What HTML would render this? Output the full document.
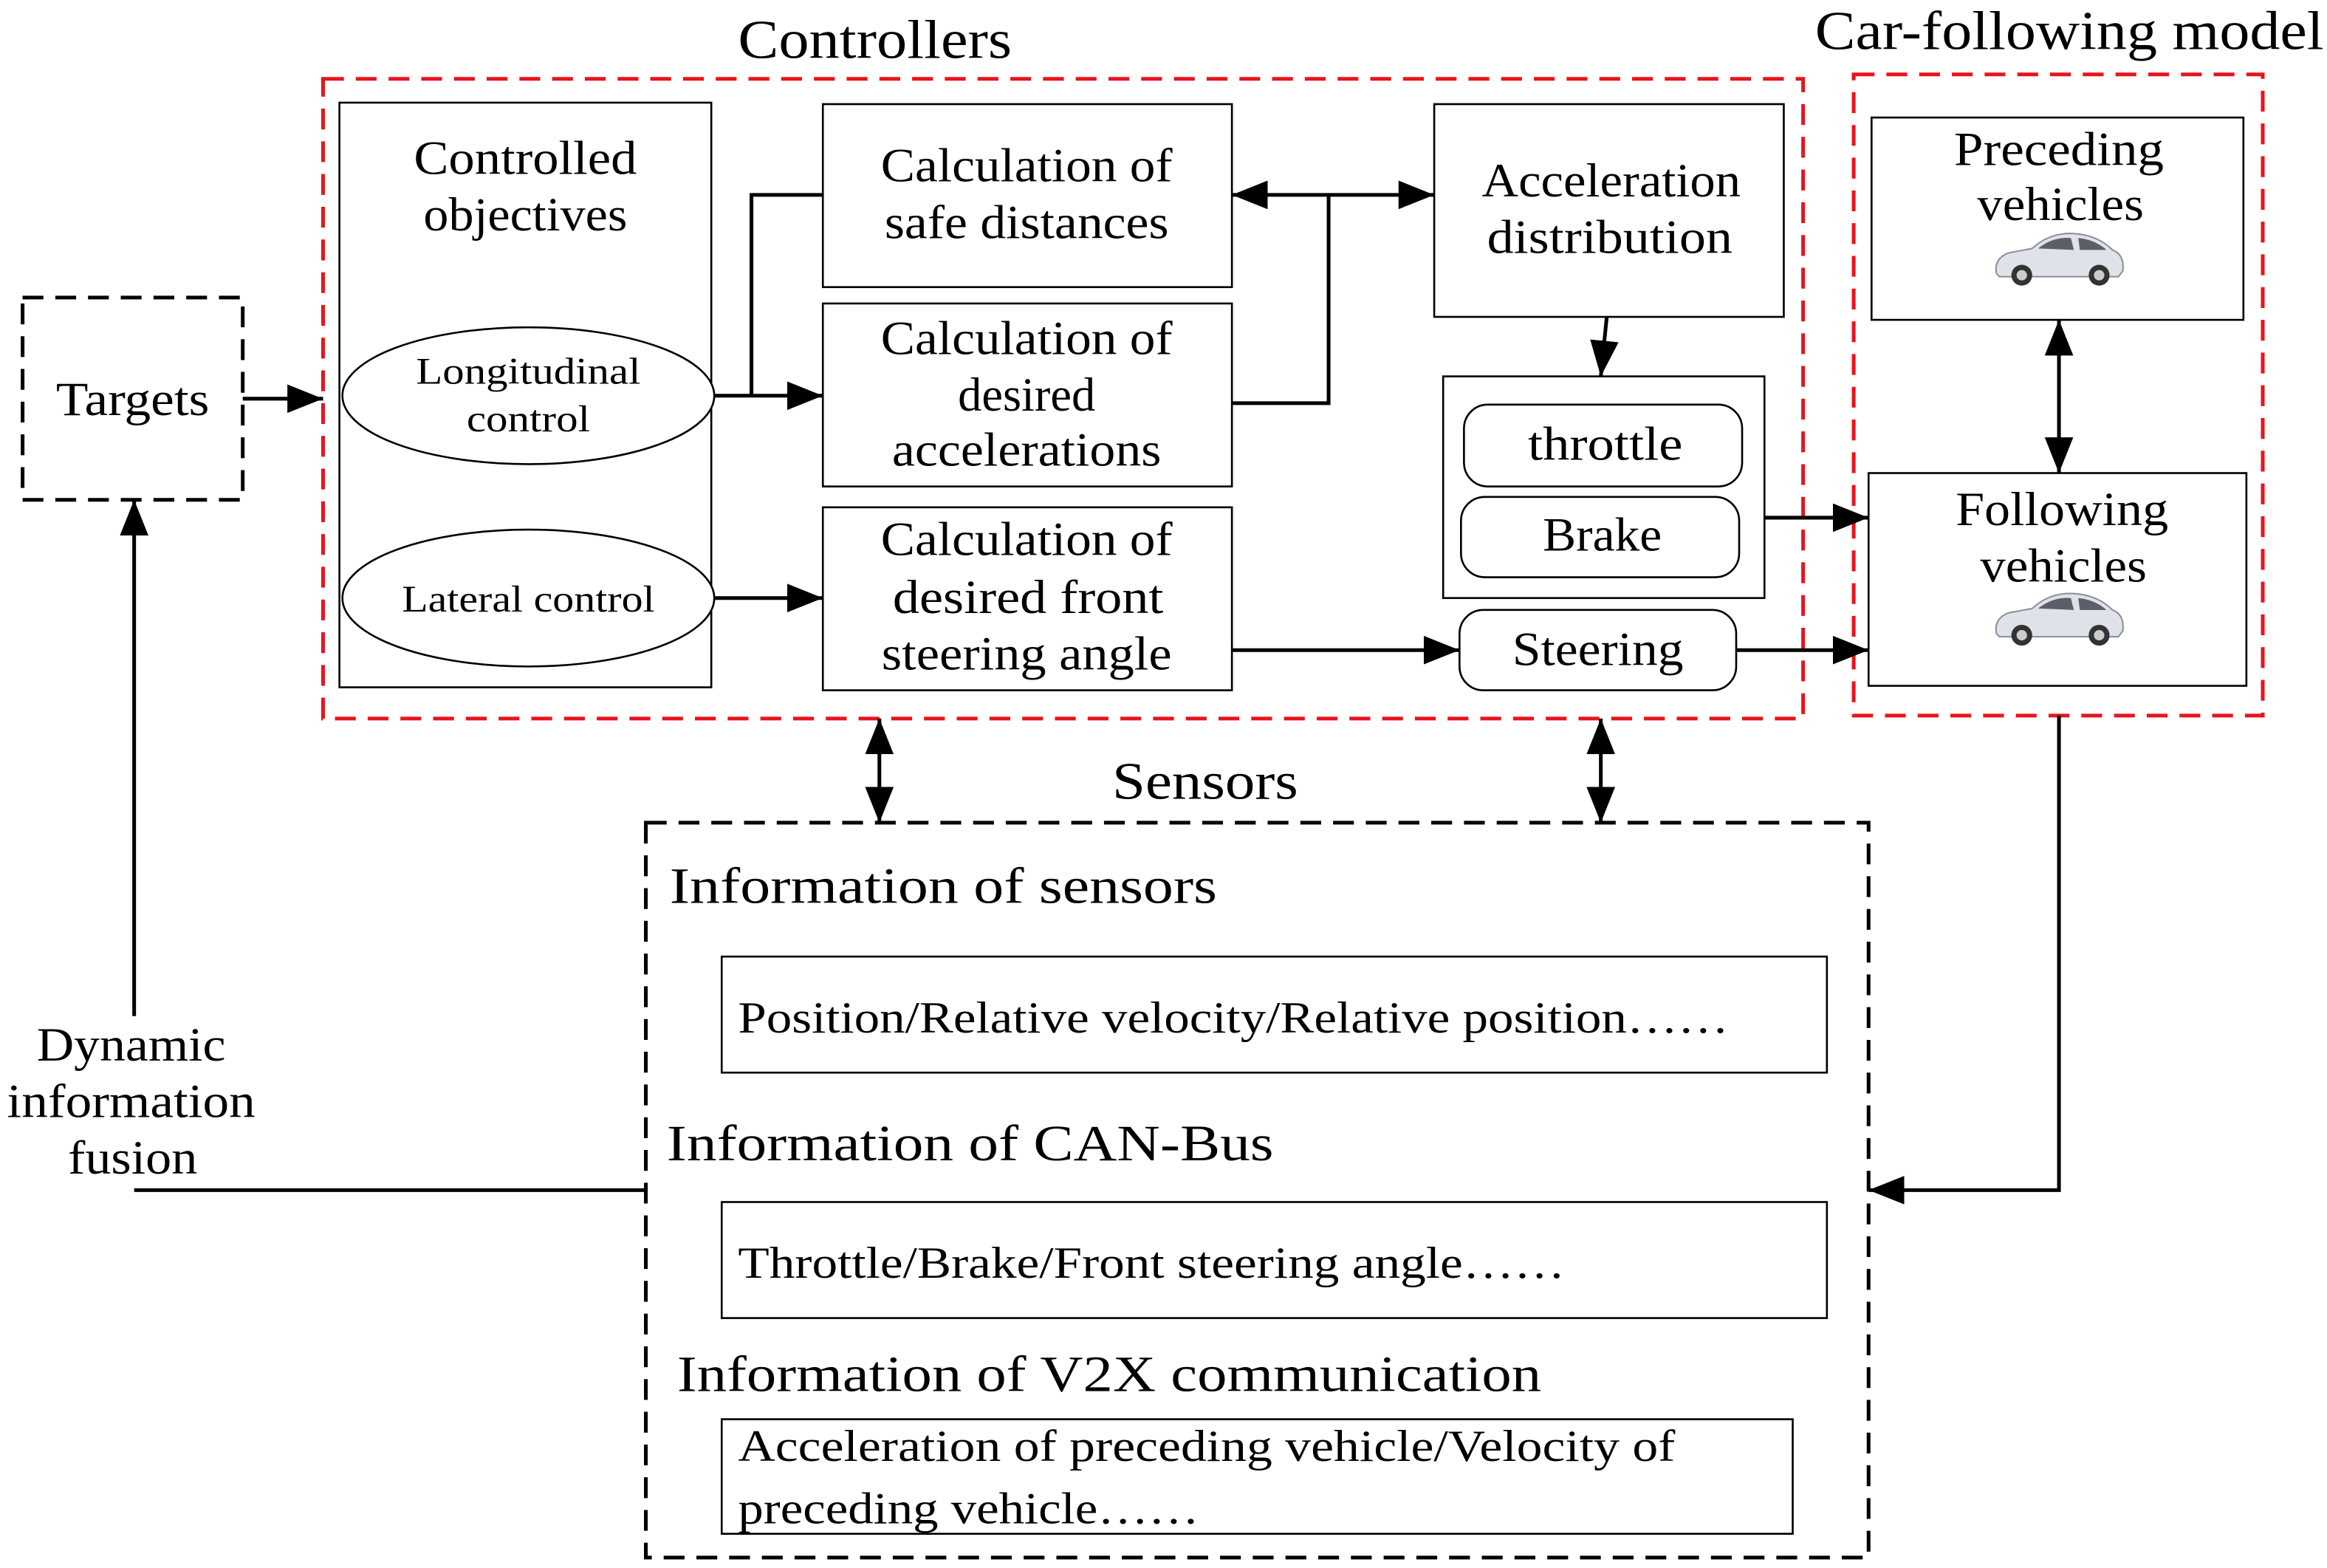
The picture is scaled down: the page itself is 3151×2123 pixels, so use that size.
<!DOCTYPE html>
<html><head><meta charset="utf-8"><style>
html,body{margin:0;padding:0;background:#fff;}
svg{display:block;}
text{font-family:"Liberation Serif",serif;fill:#000;}
</style></head><body>
<svg width="3151" height="2123" viewBox="0 0 1564 1054" xmlns="http://www.w3.org/2000/svg">
<defs>
<marker id="b" viewBox="0 0 10 10" refX="10" refY="5" markerWidth="24" markerHeight="24" markerUnits="userSpaceOnUse" orient="auto-start-reverse"><path d="M0,1 L10,5 L0,9 z" fill="#000"/></marker>
<g id="car">
<path d="M-42,10 Q-44,0 -34,-4 L-18,-7 Q-6,-18 10,-17 Q26,-16 36,-6 Q44,-3 43,8 L40,12 L-40,12 z" fill="#dfe2e8" stroke="#8a8f98" stroke-width="1"/>
<path d="M-14,-7 Q-4,-15 8,-14 L10,-6 z M13,-14 Q24,-13 32,-6 L14,-6 z" fill="#5a5f6a"/>
<circle cx="-25" cy="11" r="7" fill="#333"/><circle cx="-25" cy="11" r="3.5" fill="#ccc"/>
<circle cx="27" cy="11" r="7" fill="#333"/><circle cx="27" cy="11" r="3.5" fill="#ccc"/>
</g>
</defs>
<g fill="none" stroke-width="2.5">
<rect x="217" y="53" width="995" height="430" stroke="#e8141c" stroke-dasharray="14,8"/>
<rect x="1246" y="50" width="275" height="431" stroke="#e8141c" stroke-dasharray="14,8"/>
<rect x="15" y="200" width="148" height="136" stroke="#000" stroke-dasharray="14,8"/>
<rect x="434" y="553" width="822" height="494" stroke="#000" stroke-dasharray="14,8"/>
</g>
<g fill="#fff" stroke="#000" stroke-width="1.3">
<rect x="228" y="69" width="250" height="393"/>
<ellipse cx="355" cy="266" rx="125" ry="46"/>
<ellipse cx="355" cy="402" rx="125" ry="46"/>
<rect x="553" y="70" width="275" height="123"/>
<rect x="553" y="204" width="275" height="123"/>
<rect x="553" y="341" width="275" height="123"/>
<rect x="964" y="70" width="235" height="143"/>
<rect x="970" y="253" width="216" height="149"/>
<rect x="984" y="272" width="187" height="55" rx="16"/>
<rect x="982" y="334" width="187" height="54" rx="16"/>
<rect x="981" y="410" width="186" height="54" rx="16"/>
<rect x="1258" y="79" width="250" height="136"/>
<rect x="1256" y="318" width="254" height="143"/>
<rect x="485" y="643" width="743" height="78"/>
<rect x="485" y="808" width="743" height="78"/>
<rect x="485" y="954" width="720" height="77"/>
</g>
<g fill="none" stroke="#000" stroke-width="2.5">
<line x1="163" y1="268" x2="217" y2="268" marker-end="url(#b)"/>
<line x1="480" y1="266" x2="553" y2="266" marker-end="url(#b)"/>
<polyline points="505,266 505,131 553,131"/>
<polyline points="828,271 893,271 893,131"/>
<line x1="828" y1="131" x2="964" y2="131" marker-start="url(#b)" marker-end="url(#b)"/>
<line x1="1080" y1="213" x2="1076" y2="253" marker-end="url(#b)"/>
<line x1="480" y1="402" x2="553" y2="402" marker-end="url(#b)"/>
<line x1="828" y1="437" x2="981" y2="437" marker-end="url(#b)"/>
<line x1="1186" y1="348" x2="1256" y2="348" marker-end="url(#b)"/>
<line x1="1167" y1="437" x2="1256" y2="437" marker-end="url(#b)"/>
<line x1="1384" y1="215" x2="1384" y2="318" marker-start="url(#b)" marker-end="url(#b)"/>
<line x1="591" y1="483" x2="591" y2="553" marker-start="url(#b)" marker-end="url(#b)"/>
<line x1="1076" y1="483" x2="1076" y2="553" marker-start="url(#b)" marker-end="url(#b)"/>
<polyline points="1384,481 1384,800 1256,800" marker-end="url(#b)"/>
<line x1="434" y1="800" x2="90" y2="800"/>
<line x1="90" y1="683" x2="90" y2="336" marker-end="url(#b)"/>
</g>
<g font-size="32" text-anchor="middle">
<text x="588" y="39" font-size="37" textLength="184" lengthAdjust="spacingAndGlyphs">Controllers</text>
<text x="1391" y="33" font-size="37" textLength="342" lengthAdjust="spacingAndGlyphs">Car-following model</text>
<text x="810" y="537" font-size="35" textLength="125" lengthAdjust="spacingAndGlyphs">Sensors</text>
<text x="89" y="279" textLength="103" lengthAdjust="spacingAndGlyphs">Targets</text>
<text x="353" y="117" textLength="150" lengthAdjust="spacingAndGlyphs">Controlled</text>
<text x="353" y="155" textLength="137" lengthAdjust="spacingAndGlyphs">objectives</text>
<text x="355" y="258" font-size="25" textLength="151" lengthAdjust="spacingAndGlyphs">Longitudinal</text>
<text x="355" y="290" font-size="25" textLength="83" lengthAdjust="spacingAndGlyphs">control</text>
<text x="355" y="411" font-size="25" textLength="170" lengthAdjust="spacingAndGlyphs">Lateral control</text>
<text x="690" y="122" textLength="196" lengthAdjust="spacingAndGlyphs">Calculation of</text>
<text x="690" y="160" textLength="191" lengthAdjust="spacingAndGlyphs">safe distances</text>
<text x="690" y="238" textLength="196" lengthAdjust="spacingAndGlyphs">Calculation of</text>
<text x="690" y="276">desired</text>
<text x="690" y="313" textLength="181" lengthAdjust="spacingAndGlyphs">accelerations</text>
<text x="690" y="373" textLength="196" lengthAdjust="spacingAndGlyphs">Calculation of</text>
<text x="691" y="412" textLength="182" lengthAdjust="spacingAndGlyphs">desired front</text>
<text x="690" y="450" textLength="195" lengthAdjust="spacingAndGlyphs">steering angle</text>
<text x="1083" y="132" textLength="174" lengthAdjust="spacingAndGlyphs">Acceleration</text>
<text x="1082" y="170" textLength="165" lengthAdjust="spacingAndGlyphs">distribution</text>
<text x="1079" y="309" textLength="104" lengthAdjust="spacingAndGlyphs">throttle</text>
<text x="1077" y="370" textLength="80" lengthAdjust="spacingAndGlyphs">Brake</text>
<text x="1074" y="447" textLength="115" lengthAdjust="spacingAndGlyphs">Steering</text>
<text x="1384" y="111" textLength="141" lengthAdjust="spacingAndGlyphs">Preceding</text>
<text x="1385" y="148" textLength="112" lengthAdjust="spacingAndGlyphs">vehicles</text>
<text x="1386" y="353" textLength="143" lengthAdjust="spacingAndGlyphs">Following</text>
<text x="1387" y="391" textLength="112" lengthAdjust="spacingAndGlyphs">vehicles</text>
<text x="88" y="713" textLength="127" lengthAdjust="spacingAndGlyphs">Dynamic</text>
<text x="88" y="751" textLength="167" lengthAdjust="spacingAndGlyphs">information</text>
<text x="89" y="789" textLength="87" lengthAdjust="spacingAndGlyphs">fusion</text>
</g>
<use href="#car" x="1384" y="174"/>
<use href="#car" x="1384" y="416"/>
<g font-size="34">
<text x="450" y="607" textLength="368" lengthAdjust="spacingAndGlyphs">Information of sensors</text>
<text x="448" y="780" textLength="408" lengthAdjust="spacingAndGlyphs">Information of CAN-Bus</text>
<text x="455" y="935" textLength="581" lengthAdjust="spacingAndGlyphs">Information of V2X communication</text>
</g>
<g font-size="30">
<text x="496" y="694" textLength="666" lengthAdjust="spacingAndGlyphs">Position/Relative velocity/Relative position……</text>
<text x="496" y="859" textLength="556" lengthAdjust="spacingAndGlyphs">Throttle/Brake/Front steering angle……</text>
<text x="496" y="982" textLength="630" lengthAdjust="spacingAndGlyphs">Acceleration of preceding vehicle/Velocity of</text>
<text x="496" y="1024" textLength="310" lengthAdjust="spacingAndGlyphs">preceding vehicle……</text>
</g>
</svg>
</body></html>
